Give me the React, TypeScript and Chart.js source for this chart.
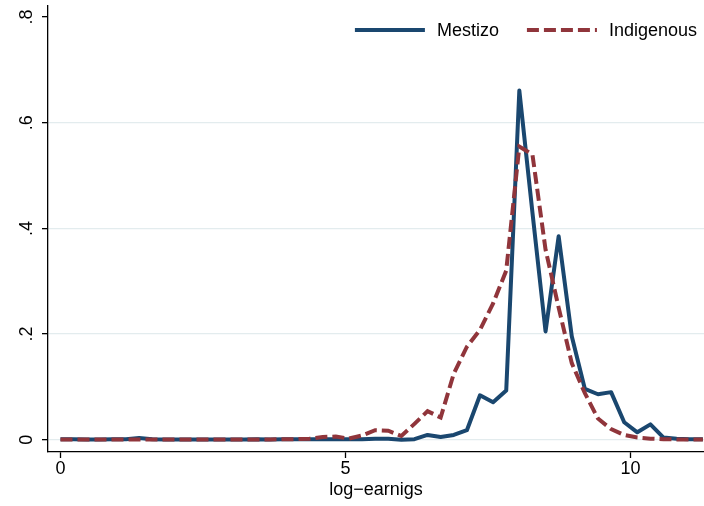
import React, { useEffect, useRef } from "react";
import { Chart, registerables } from "chart.js";

Chart.register(...registerables);

// ---- data ----
const xValues = [
  0, 0.23, 0.46, 0.69, 0.92, 1.15, 1.38, 1.61, 1.84, 2.07,
  2.3, 2.53, 2.76, 2.99, 3.22, 3.45, 3.68, 3.91, 4.14, 4.37,
  4.6, 4.83, 5.06, 5.29, 5.52, 5.75, 5.98, 6.21, 6.44, 6.67,
  6.9, 7.13, 7.36, 7.59, 7.82, 8.05, 8.28, 8.51, 8.74, 8.97,
  9.2, 9.43, 9.66, 9.89, 10.12, 10.35, 10.58, 10.81, 11.04, 11.27,
];

const mestizo = [
  0.001, 0.001, 0.0005, 0.0005, 0.001, 0.001, 0.003, 0.001, 0.0005, 0.0005,
  0.0005, 0.0005, 0.0005, 0.0005, 0.0005, 0.001, 0.0005, 0.001, 0.001, 0.001,
  0.001, 0.001, 0.001, 0.001, 0.002, 0.002, 0.0, 0.001, 0.009, 0.005,
  0.009, 0.018, 0.084, 0.071, 0.093, 0.661, 0.43, 0.205, 0.385, 0.196,
  0.096, 0.086, 0.09, 0.033, 0.014, 0.029, 0.004, 0.002, 0.001, 0.001,
];

const indigenous = [
  0.0005, 0.0005, 0.0005, 0.0005, 0.0005, 0.0005, 0.0005, 0.0005, 0.0005, 0.0005,
  0.0005, 0.0005, 0.0005, 0.0005, 0.0005, 0.0005, 0.0005, 0.001, 0.001, 0.002,
  0.005, 0.006, 0.002, 0.008, 0.018, 0.017, 0.007, 0.03, 0.054, 0.042,
  0.125, 0.176, 0.208, 0.258, 0.32, 0.555, 0.54, 0.36, 0.25, 0.145,
  0.088, 0.04, 0.02, 0.009, 0.004, 0.002, 0.001, 0.0005, 0.0005, 0.0005,
];

const seriesLabels = ["Mestizo", "Indigenous"];
const xTicks = [0, 5, 10];
const yTicks = [0, 0.2, 0.4, 0.6, 0.8];
const xTitle = "log\u2212earnigs";

// ---- styles ----
const FONT = "'Liberation Sans', Arial, Helvetica, sans-serif";
const NAVY = "#1a476f";
const MAROON = "#90353b";
const GRID = "#e3ecee";
const DASH = [12, 5];

const fmtY = (v: number) => (v === 0 ? "0" : v.toFixed(1).replace(/^0/, ""));

const insideLegend = {
  id: "insideLegend",
  afterDraw(chart: any) {
    const { ctx, chartArea } = chart;
    const datasets = chart.data.datasets;
    ctx.save();
    ctx.font = `18px ${FONT}`;
    ctx.textBaseline = "middle";
    const sampleLen = 70;
    const gap = 12;
    const itemGap = 28;
    const widths = datasets.map((d: any) => ctx.measureText(d.label).width);
    let total = 0;
    widths.forEach((w: number, i: number) => {
      total += sampleLen + gap + w + (i < widths.length - 1 ? itemGap : 0);
    });
    let x = chartArea.right - 7 - total;
    const y = chartArea.top + 24;
    datasets.forEach((d: any, i: number) => {
      ctx.beginPath();
      ctx.strokeStyle = d.borderColor;
      ctx.lineWidth = d.borderWidth;
      ctx.lineCap = "butt";
      ctx.setLineDash(d.borderDash || []);
      ctx.moveTo(x, y);
      ctx.lineTo(x + sampleLen, y);
      ctx.stroke();
      ctx.setLineDash([]);
      x += sampleLen + gap;
      ctx.fillStyle = "#000";
      ctx.textAlign = "left";
      ctx.fillText(d.label, x, y + 1);
      x += widths[i] + itemGap;
    });
    ctx.restore();
  },
};

export default function App() {
  const canvasRef = useRef<HTMLCanvasElement | null>(null);

  useEffect(() => {
    document.body.style.margin = "0";
    const canvas = canvasRef.current;
    if (!canvas) return;

    const toPoints = (ys: number[]) => xValues.map((x, i) => ({ x, y: ys[i] }));

    const chart = new Chart(canvas, {
      type: "line",
      data: {
        datasets: [
          {
            label: seriesLabels[0],
            data: toPoints(mestizo),
            borderColor: NAVY,
            backgroundColor: NAVY,
            borderWidth: 4,
            pointRadius: 0,
            tension: 0,
            borderJoinStyle: "round",
            fill: false,
            order: 1,
          },
          {
            label: seriesLabels[1],
            data: toPoints(indigenous),
            borderColor: MAROON,
            backgroundColor: MAROON,
            borderWidth: 4,
            borderDash: DASH,
            borderCapStyle: "butt",
            pointRadius: 0,
            tension: 0,
            fill: false,
            order: 0,
          },
        ],
      },
      options: {
        responsive: false,
        animation: false,
        devicePixelRatio: 1,
        layout: { padding: { top: 6, right: 0, left: 0, bottom: 0 } },
        plugins: {
          legend: { display: false },
          tooltip: { enabled: false },
        },
        scales: {
          x: {
            type: "linear",
            min: -0.219,
            max: 11.29,
            afterBuildTicks: (s: any) => {
              s.ticks = xTicks.map((v) => ({ value: v }));
            },
            afterFit: (s: any) => {
              s.height = 54;
              s.paddingLeft = 0;
              s.paddingRight = 0;
            },
            grid: {
              drawOnChartArea: false,
              drawTicks: true,
              tickLength: 6,
              tickColor: "#000",
              tickWidth: 1.3,
            },
            border: { color: "#000", width: 1.3 },
            ticks: {
              color: "#000",
              font: { family: FONT, size: 18 },
              padding: 0,
              maxRotation: 0,
              autoSkip: false,
              callback: (v: any) => String(v),
            },
            title: {
              display: true,
              text: xTitle,
              color: "#000",
              font: { family: FONT, size: 18 },
              padding: { top: 0, bottom: 5 },
            },
          },
          y: {
            type: "linear",
            min: -0.0233,
            max: 0.821,
            afterBuildTicks: (s: any) => {
              s.ticks = yTicks.map((v) => ({ value: v }));
            },
            afterFit: (s: any) => {
              s.width = 48;
              s.paddingTop = 0;
              s.paddingBottom = 0;
            },
            grid: {
              color: (c: any) =>
                c.tick && c.tick.value > 0.7 ? "rgba(0,0,0,0)" : GRID,
              lineWidth: 1.3,
              drawTicks: true,
              tickLength: 6,
              tickColor: "#000",
              tickWidth: 1.3,
            },
            border: { color: "#000", width: 1.3 },
            ticks: {
              color: "#000",
              font: { family: FONT, size: 18 },
              minRotation: 90,
              maxRotation: 90,
              crossAlign: "center",
              padding: 7,
              autoSkip: false,
              callback: (v: any) => fmtY(Number(v)),
            },
          },
        },
      },
      plugins: [insideLegend],
    } as any);

    return () => chart.destroy();
  }, []);

  return (
    <div style={{ width: 704, height: 506, background: "#fff" }}>
      <canvas ref={canvasRef} width={704} height={506} />
    </div>
  );
}
